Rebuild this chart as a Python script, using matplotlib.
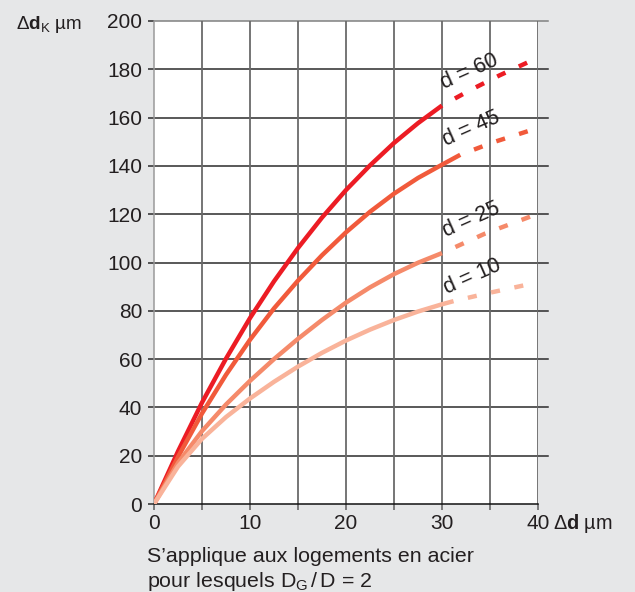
import matplotlib
matplotlib.use('Agg')  # no display
import matplotlib.pyplot as plt

plt.rcParams['font.family'] = ['Liberation Sans', 'DejaVu Sans']
plt.rcParams['mathtext.fontset'] = 'custom'
plt.rcParams['mathtext.rm'] = 'Liberation Sans'
plt.rcParams['mathtext.bf'] = 'Liberation Sans:bold'
plt.rcParams['mathtext.it'] = 'Liberation Sans:italic'

# values (x in um, y in um)
labels = ['d = 60', 'd = 45', 'd = 25', 'd = 10']
colors = ['#ec1c24', '#f15a3b', '#f58a6a', '#f9b39a']

x_common = [0, 2.5, 5, 7.5, 10, 12.5, 15, 17.5, 20, 22.5, 25, 27.5, 30]
d60_solid_x = x_common
d60_solid_y = [0, 21.8, 42, 60.2, 77, 92.2, 106, 118.6, 130, 140.2, 149.5, 157.7, 165]
d45_solid_x = x_common + [31.9]
d45_solid_y = [0, 19.5, 37.5, 53.5, 68, 81, 92.5, 103, 112.5, 121, 128.5, 135, 140.5, 144.6]
d25_solid_x = x_common
d25_solid_y = [0, 17, 30.2, 41.2, 51, 60, 68.4, 76.2, 83.4, 89.7, 95.2, 99.9, 103.9]
d10_solid_x = x_common + [31.2]
d10_solid_y = [0, 15.5, 27, 36, 43.7, 50.6, 56.9, 62.6, 67.7, 72.2, 76.2, 79.7, 82.7, 84]

d60_dash_x = [30, 33, 36, 39]
d60_dash_y = [165, 171.5, 177.5, 183]
d45_dash_x = [31.9, 35.5, 39.2]
d45_dash_y = [144.6, 150, 154.7]
d25_dash_x = [30, 34.5, 39.2]
d25_dash_y = [103.9, 112, 119]
d10_dash_x = [31.2, 35, 38.5]
d10_dash_y = [84, 87.5, 90.5]

label_x = [32.9, 33.05, 33.05, 33.2]
label_y = [179, 155.3, 117.7, 94]

x_ticks = [0, 5, 10, 15, 20, 25, 30, 35, 40]
x_ticklabels = ['0', '', '10', '', '20', '', '30', '', '40']
y_ticks = [0, 20, 40, 60, 80, 100, 120, 140, 160, 180, 200]

solids = [(d60_solid_x, d60_solid_y), (d45_solid_x, d45_solid_y),
          (d25_solid_x, d25_solid_y), (d10_solid_x, d10_solid_y)]
dashes = [(d60_dash_x, d60_dash_y), (d45_dash_x, d45_dash_y),
          (d25_dash_x, d25_dash_y), (d10_dash_x, d10_dash_y)]

W, H = 635, 592
bg = '#e6e7e8'
txt = '#231f20'
fig = plt.figure(figsize=(W / 100, H / 100), dpi=100, facecolor=bg)
ax = fig.add_axes([154 / W, 1 - 504 / H, 384 / W, 483 / H])
ax.set_facecolor('white')
ax.set_xlim(0, 40)
ax.set_ylim(0, 200)

# grid
for yv in y_ticks[1:]:
    col = '#808080' if yv == 200 else '#2b2b2b'
    ax.plot([0, 41], [yv, yv], color=col, lw=1.1, clip_on=False, zorder=1)
for xv in x_ticks[1:]:
    ax.axvline(xv, color='#6a6a6a', lw=1.3, zorder=1)

lw = 3.2
for (sx, sy), (dx, dy), c in zip(solids, dashes, colors):
    ax.plot(sx, sy, color=c, lw=lw, solid_capstyle='butt',
            solid_joinstyle='round', zorder=3)
    # starts with a gap, ends on a full dash
    ax.plot(dx, dy, color=c, lw=lw, dash_capstyle='butt',
            linestyle=(2.05, (2.05, 3.31)), zorder=3)

for lx, ly, t in zip(label_x, label_y, labels):
    ax.text(lx, ly, t, fontsize=15.5, rotation=24, ha='center', va='center',
            color=txt, zorder=4)

for s in ['top', 'right']:
    ax.spines[s].set_visible(False)
ax.spines['left'].set_color('#9a9a9a')
ax.spines['bottom'].set_color('#111111')
ax.spines['left'].set_linewidth(1.1)
ax.spines['bottom'].set_linewidth(1.1)

ax.set_xticks(x_ticks)
ax.set_xticklabels(x_ticklabels)
ax.set_yticks(y_ticks)
ax.tick_params(axis='x', length=4.5, width=1.2, color='#6a6a6a', pad=2.5,
               labelsize=15, labelcolor=txt)
ax.tick_params(axis='y', length=4.5, width=1.1, color='#2b2b2b', pad=4,
               labelsize=15, labelcolor=txt)

fig.text(16 / W, 1 - 29 / H, r'$\Delta\mathbf{d}_{\mathrm{K}}$ µm', fontsize=13.6,
         ha='left', va='baseline', color=txt)
fig.text(553 / W, 1 - 529 / H, r'$\Delta\mathbf{d}$ µm', fontsize=14.3,
         ha='left', va='baseline', color=txt)
fig.text(146.7 / W, 1 - 562 / H, 'S’applique aux logements en acier', fontsize=15.4,
         ha='left', va='baseline', color=txt)
fig.text(146.7 / W, 1 - 587 / H,
         r'pour lesquels $\mathrm{D}_{\mathrm{G}}\,/\,\mathrm{D}$ = 2', fontsize=15.4,
         ha='left', va='baseline', color=txt)

fig.savefig('out.png', dpi=100, facecolor=bg)
